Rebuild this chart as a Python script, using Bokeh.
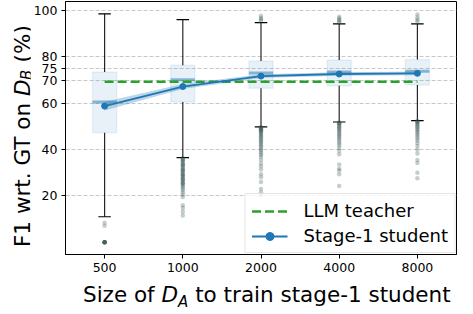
from bokeh.plotting import figure
from bokeh.models import FixedTicker, Range1d, Div
from bokeh.layouts import row, column
from bokeh.embed import file_html
from bokeh.resources import INLINE

# ---------------- data ----------------
sizes = ["500", "1000", "2000", "4000", "8000"]
xpos = [0, 1, 2, 3, 4]

box_q1 = [47.2, 60.5, 66.5, 67.5, 67.9]
box_q3 = [73.5, 76.4, 78.2, 78.6, 78.9]
box_med = [60.5, 70.1, 73.0, 73.5, 73.75]
whisk_lo = [11.0, 36.5, 49.8, 51.9, 52.5]
whisk_hi = [98.6, 96.1, 94.8, 94.2, 94.2]

student_mean = [58.75, 67.2, 71.7, 72.6, 72.9]
student_lo = [56.9, 66.1, 70.9, 71.8, 72.1]
student_hi = [60.6, 68.3, 72.5, 73.4, 73.7]

teacher_f1 = 69.3

outliers_500 = [8.4, 7.1, 0.0, 0.0, 0.0, 0.0, 0.0, 0.0, 0.0]
outliers_1000 = [36.3, 35.8, 35.5, 35.2, 34.7, 34.1, 33.6, 33.3, 33.0, 32.5, 31.9,
                 31.4, 31.0, 30.8, 30.3, 29.7, 29.2, 29.0, 28.6, 28.1, 27.5, 27.2,
                 27.0, 26.4, 25.8, 25.5, 25.2, 24.6, 24.0, 23.3, 22.5, 21.6, 20.6,
                 19.5, 16.0, 14.8, 13.2, 11.5]
outliers_2000 = [97.7, 96.8, 96.2, 95.5,
                 49.6, 49.4, 49.2, 48.9, 48.7, 48.3, 48.0, 47.8, 47.3, 46.8, 46.3,
                 45.8, 45.3, 44.8, 44.2, 43.7, 43.1, 42.5, 41.9, 41.3, 40.6, 39.9,
                 39.2, 38.4, 37.6, 36.8, 35.5, 34.0, 32.8, 31.4, 29.3, 28.0, 26.0,
                 23.0, 21.5, 20.3]
outliers_4000 = [97.3, 96.6, 96.0, 95.4, 94.8,
                 51.7, 51.5, 51.3, 50.9, 50.4, 50.0, 49.5, 49.0, 48.5, 48.0, 47.4,
                 46.8, 46.2, 45.6, 44.9, 44.2, 43.4, 42.6, 41.7, 40.7, 39.5, 38.0,
                 33.5, 31.7, 31.0, 29.3, 24.3]
outliers_8000 = [98.3, 97.0, 96.0, 95.3,
                 52.3, 52.1, 51.9, 51.5, 51.0, 50.5, 50.0, 49.5, 48.9, 48.3, 47.7,
                 47.0, 46.3, 45.5, 44.7, 43.8, 42.7, 41.5, 40.0, 38.3, 35.5, 34.2,
                 30.0, 27.6]
outliers = [outliers_500, outliers_1000, outliers_2000, outliers_4000, outliers_8000]

yticks = [20, 40, 60, 70, 75, 80, 100]

# ---------------- layout ----------------
YDIV_W = 30
PW, PH = 427, 277
XDIV_H = 21
BL, BR, BT, BB = 32, 1, 1, 23
X0, X1 = -0.5, 4.5
Y0, Y1 = -5.3, 103.9
FONT = "DejaVu Sans"
BLUE = "#1f77b4"
GREEN = "#2ca02c"

p = figure(width=PW, height=PH, x_range=Range1d(X0, X1), y_range=Range1d(Y0, Y1),
           output_backend="svg", toolbar_location=None,
           min_border_left=BL, min_border_right=BR, min_border_top=BT,
           min_border_bottom=BB, margin=(0, 0, 0, 0))
p.background_fill_color = "white"
p.border_fill_color = "white"
p.outline_line_color = "black"
p.outline_line_width = 1
p.outline_line_alpha = 1

p.xaxis.ticker = FixedTicker(ticks=xpos)
p.xaxis.major_label_overrides = {x: s for x, s in zip(xpos, sizes)}
p.yaxis.ticker = FixedTicker(ticks=yticks)
p.xgrid.visible = False
p.ygrid.ticker = FixedTicker(ticks=yticks)
p.ygrid.grid_line_color = "#c8c8c8"
p.ygrid.grid_line_dash = "4 2"
p.ygrid.grid_line_width = 1
for ax in (p.xaxis, p.yaxis):
    ax.axis_line_color = "black"
    ax.major_tick_line_color = "black"
    ax.major_tick_in = 0
    ax.major_tick_out = 4
    ax.minor_tick_line_color = None
    ax.major_label_text_font = FONT
    ax.major_label_text_font_size = "12.5px"
    ax.major_label_text_color = "black"
    ax.major_label_standoff = 4

half_box = 0.155
half_cap = 0.08

# boxes
p.quad(left=[x - half_box for x in xpos], right=[x + half_box for x in xpos],
       bottom=box_q1, top=box_q3, fill_color=BLUE, fill_alpha=0.1,
       line_color=BLUE, line_alpha=0.08, line_width=1.5)
# medians
p.segment(x0=[x - half_box for x in xpos], x1=[x + half_box for x in xpos],
          y0=box_med, y1=box_med, line_color=BLUE, line_alpha=0.5, line_width=3)
# whiskers
p.segment(x0=xpos, x1=xpos, y0=box_q3, y1=whisk_hi, line_color="black",
          line_alpha=0.85, line_width=1.2)
p.segment(x0=xpos, x1=xpos, y0=box_q1, y1=whisk_lo, line_color="black",
          line_alpha=0.85, line_width=1.2)
# caps
p.segment(x0=[x - half_cap for x in xpos], x1=[x + half_cap for x in xpos],
          y0=whisk_hi, y1=whisk_hi, line_color="black", line_width=1.2)
p.segment(x0=[x - half_cap for x in xpos], x1=[x + half_cap for x in xpos],
          y0=whisk_lo, y1=whisk_lo, line_color="black", line_width=1.2)
# fliers
fx, fy = [], []
for x, vals in zip(xpos, outliers):
    fx += [x] * len(vals)
    fy += vals
p.scatter(x=fx, y=fy, size=4.5, marker="circle", fill_color="#2f4f4f",
          fill_alpha=0.28, line_color=None)

# teacher
p.line(x=[xpos[0], xpos[-1]], y=[teacher_f1, teacher_f1], line_color=GREEN,
       line_width=2.5, line_dash="9 4", legend_label="LLM teacher")
# student
p.varea(x=xpos, y1=student_lo, y2=student_hi, fill_color=BLUE, fill_alpha=0.3)
p.line(x=xpos, y=student_mean, line_color=BLUE, line_width=1.8,
       legend_label="Stage-1 student")
p.scatter(x=xpos, y=student_mean, size=6, marker="circle", fill_color=BLUE,
          line_color=BLUE, legend_label="Stage-1 student")

lg = p.legend[0]
lg.location = "bottom_right"
lg.margin = 1
lg.padding = 6
lg.spacing = 4
lg.glyph_width = 36
lg.glyph_height = 20
lg.label_height = 20
lg.label_standoff = 16
lg.label_text_font = FONT
lg.label_text_font_size = "18px"
lg.label_text_color = "black"
lg.border_line_color = "#cccccc"
lg.border_line_width = 1
lg.background_fill_alpha = 0.8

# ---------------- axis titles as HTML text ----------------
x_title = Div(
    text=('<div style="padding-left:53px; padding-top:5px; white-space:nowrap;">Size of '
          '<i>D</i><span style="font-size:15px; font-style:italic; '
          'position:relative; top:5px;">A</span> to train stage-1 student</div>'),
    width=PW, height=XDIV_H, margin=(0, 0, 0, 0),
    styles={"font-family": FONT, "font-size": "21.5px", "line-height": "25px",
            "color": "black", "overflow": "visible"})

y_title = Div(
    text=('<div style="padding-top:30px; padding-right:10px; white-space:nowrap;">'
          'F1 wrt. GT on <i>D</i><span style="font-size:15px; font-style:italic; '
          'position:relative; left:-4px;">B</span> (%)</div>'),
    width=YDIV_W, height=PH, margin=(0, 0, 0, 0),
    styles={"font-family": FONT, "font-size": "21.5px", "line-height": "25px",
            "color": "black", "writing-mode": "vertical-rl",
            "transform": "rotate(180deg)", "overflow": "visible"})

layout = row(y_title, column(p, x_title, spacing=0), spacing=0)

open("out.html", "w").write(file_html(layout, INLINE))
